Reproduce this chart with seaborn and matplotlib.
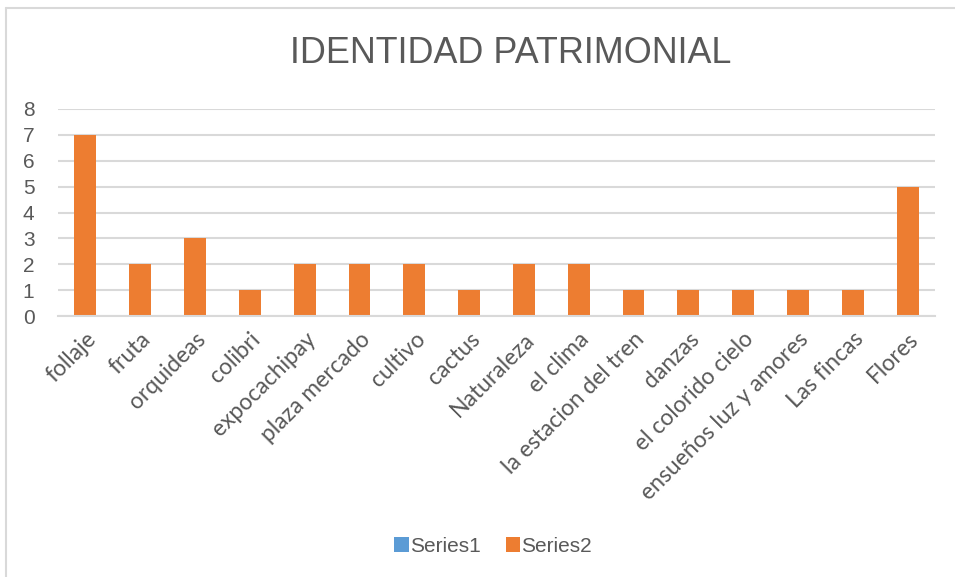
import matplotlib
matplotlib.use("Agg")
import matplotlib.pyplot as plt
from matplotlib.patches import Patch
from matplotlib.lines import Line2D
import pandas as pd
import seaborn as sns

categories = ["follaje", "fruta", "orquideas", "colibri", "expocachipay",
              "plaza mercado", "cultivo", "cactus", "Naturaleza", "el clima",
              "la estacion del tren", "danzas", "el colorido cielo",
              "ensueños luz y amores", "Las fincas", "Flores"]
series1 = [0, 0, 0, 0, 0, 0, 0, 0, 0, 0, 0, 0, 0, 0, 0, 0]
series2 = [7, 2, 3, 1, 2, 2, 2, 1, 2, 2, 1, 1, 1, 1, 1, 5]
series_names = ["Series1", "Series2"]
colors = {"Series1": "#5B9BD5", "Series2": "#ED7D31"}

df = pd.DataFrame({
    "categoria": categories * 2,
    "valor": series1 + series2,
    "serie": [series_names[0]] * len(categories) + [series_names[1]] * len(categories),
})

sns.set_style("white")
plt.rcParams["font.family"] = ["Liberation Sans", "DejaVu Sans"]
text_col = "#595959"
grid_col = "#d9d9d9"

fig = plt.figure(figsize=(9.55, 5.77), dpi=100)
ax = fig.add_axes([58 / 955, 1 - 316 / 577, (935 - 58) / 955, (316 - 109) / 577])

sns.barplot(data=df, x="categoria", y="valor", hue="serie", palette=colors,
            dodge=False, width=0.4, saturation=1, legend=False, ax=ax,
            linewidth=0)

ax.set_xlim(-0.5, len(categories) - 0.5)
ax.set_ylim(0, 8)
ax.set_yticks(range(0, 9))
ax.set_xlabel("")
ax.set_ylabel("")
ax.yaxis.grid(True, color=grid_col, linewidth=1.5)
ax.set_axisbelow(True)
for s in ["top", "right", "left"]:
    ax.spines[s].set_visible(False)
ax.spines["bottom"].set_color(grid_col)
ax.spines["bottom"].set_linewidth(1.5)
ax.tick_params(axis="y", length=0, pad=17, labelsize=15, labelcolor=text_col)
ax.tick_params(axis="x", length=0, pad=9)
ax.set_xticks(range(len(categories)))
ax.set_xticklabels(categories, rotation=45, ha="right", rotation_mode="anchor",
                   fontsize=16.5, color=text_col, family=["Lato", "DejaVu Sans"])

fig.text(511 / 955, 1 - 63 / 577, "IDENTIDAD PATRIMONIAL", ha="center",
         va="baseline", fontsize=25.8, color=text_col)

handles = [Patch(facecolor=colors[n], edgecolor="none", label=n) for n in series_names]
fig.legend(handles=handles, loc="center", bbox_to_anchor=(493 / 955, 1 - 546 / 577),
           ncol=2, frameon=False, fontsize=15, labelcolor=text_col,
           handlelength=0.7, handleheight=0.7, handletextpad=0.05, columnspacing=1.2)

# chart border (top and left visible)
fig.add_artist(Line2D([5.5 / 955, 1], [1 - 7.5 / 577, 1 - 7.5 / 577],
                      transform=fig.transFigure, color=grid_col, linewidth=1.5))
fig.add_artist(Line2D([5.5 / 955, 5.5 / 955], [0, 1 - 7.5 / 577],
                      transform=fig.transFigure, color=grid_col, linewidth=1.5))

fig.savefig("out.png", dpi=100, facecolor="white")
